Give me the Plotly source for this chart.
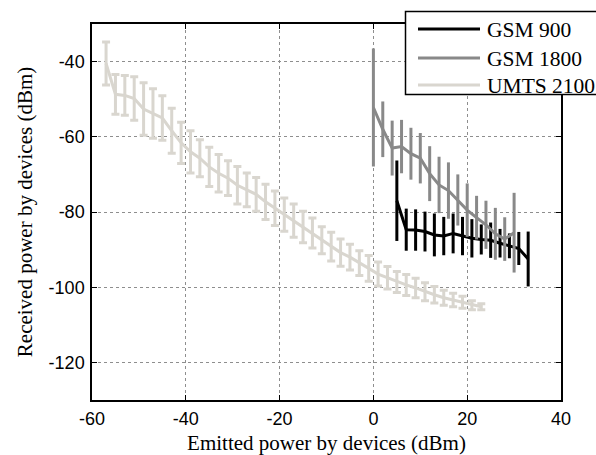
import plotly.graph_objects as go

# ---------------- data ----------------
gsm900_x = [5, 7, 9, 11, 13, 15, 17, 19, 21, 23, 25, 27, 29, 31, 33]
gsm900_y = [-77.0, -84.7, -84.8, -85.2, -86.1, -86.4, -85.7, -86.4, -87.0, -87.3,
            -87.5, -88.3, -89.0, -89.7, -92.5]
gsm900_err = [10.7, 5.6, 5.5, 5.3, 5.7, 5.1, 5.3, 5.1, 5.1, 4.0, 4.7, 3.8, 3.3, 4.4, 7.3]

gsm1800_x = [0, 2, 4, 6, 8, 10, 12, 14, 16, 18, 20, 22, 24, 26, 28, 30]
gsm1800_y = [-52.2, -58.0, -63.0, -62.6, -64.5, -65.7, -69.8, -72.8, -74.3, -76.8,
             -79.5, -81.5, -83.4, -85.8, -87.2, -85.5]
gsm1800_err = [15.7, 7.4, 7.3, 7.1, 6.9, 6.7, 7.3, 7.5, 7.5, 6.8, 7.1, 5.8, 6.4, 6.9, 5.8, 10.6]

umts_x = [-57, -55, -53, -51, -49, -47, -45, -43, -41, -39, -37, -35, -33, -31, -29,
          -27, -25, -23, -21, -19, -17, -15, -13, -11, -9, -7, -5, -3, -1, 1, 3, 5,
          7, 9, 11, 13, 15, 17, 19, 21, 23]
umts_y = [-40.5, -48.7, -49.0, -49.8, -52.6, -53.8, -55.0, -58.4, -61.6, -64.0, -65.7,
          -68.0, -69.7, -71.0, -72.9, -74.1, -75.3, -77.3, -79.0, -80.7, -82.3, -84.0,
          -85.6, -87.5, -89.2, -90.8, -92.0, -93.6, -95.0, -96.5, -97.5, -98.6, -99.4,
          -100.2, -101.2, -102.0, -102.8, -103.4, -104.0, -104.8, -105.2]
umts_err = [5.7, 5.3, 5.3, 5.8, 7.0, 6.6, 5.9, 6.0, 5.5, 5.6, 4.9, 5.2, 5.0, 4.6, 5.0,
            4.5, 4.5, 4.7, 4.6, 4.4, 4.4, 4.2, 4.0, 3.6, 3.8, 3.6, 3.4, 3.3, 3.4, 3.2,
            3.0, 2.8, 2.8, 2.6, 2.4, 2.2, 2.0, 1.8, 1.6, 1.2, 0.8]

series_names = ["GSM 900", "GSM 1800", "UMTS 2100"]
series_colors = ["#000000", "#898989", "#d9d6cf"]

x_ticks = [-60, -40, -20, 0, 20, 40]
y_ticks = [-120, -100, -80, -60, -40]

SERIF = "Liberation Serif"
SANS = "Liberation Sans"

# ---------------- figure ----------------
fig = go.Figure()
fig.add_trace(go.Scatter(
    x=gsm900_x, y=gsm900_y, mode="lines", name=series_names[0],
    line=dict(color=series_colors[0], width=3),
    error_y=dict(type="data", array=gsm900_err, color=series_colors[0], thickness=3, width=0),
    showlegend=False))
fig.add_trace(go.Scatter(
    x=gsm1800_x, y=gsm1800_y, mode="lines", name=series_names[1],
    line=dict(color=series_colors[1], width=3),
    error_y=dict(type="data", array=gsm1800_err, color=series_colors[1], thickness=3, width=0),
    showlegend=False))
fig.add_trace(go.Scatter(
    x=umts_x, y=umts_y, mode="lines", name=series_names[2],
    line=dict(color=series_colors[2], width=3),
    error_y=dict(type="data", array=umts_err, color=series_colors[2], thickness=3, width=4),
    showlegend=False))

axis_common = dict(
    showline=True, linecolor="black", linewidth=1.5, mirror="ticks",
    ticks="inside", ticklen=5, tickcolor="black", tickwidth=1,
    showgrid=True, gridcolor="#8e8e8e", griddash="dot", gridwidth=1,
    zeroline=False, automargin=False,
    tickfont=dict(family=SANS, size=18, color="black"),
)

fig.update_xaxes(range=[-60, 40], tickvals=x_ticks, ticktext=[str(v) for v in x_ticks],
                 ticklabelstandoff=2,
                 title=dict(text="Emitted power by devices (dBm)", standoff=14,
                            font=dict(family=SERIF, size=21, color="black")),
                 **axis_common)
fig.update_yaxes(range=[-130, -30], tickvals=y_ticks, ticktext=[str(v) for v in y_ticks],
                 ticklabelstandoff=2,
                 title=dict(text="Received power by devices (dBm)", standoff=10,
                            font=dict(family=SERIF, size=21, color="black")),
                 **axis_common)

# ---------------- legend (drawn manually, MATLAB style) ----------------
L, R, T, B = 92, 561, 24, 400
W, H = R - L, B - T


def px(xp):
    return (xp - L) / W


def py(yp):
    return (B - yp) / H


fig.add_shape(type="rect", xref="paper", yref="paper",
              x0=px(405.5), x1=px(640), y0=py(94.5), y1=py(11.5),
              line=dict(color="black", width=1.5), fillcolor="white", layer="above")
row_y = [29, 58, 85]
for name, col, yy in zip(series_names, series_colors, row_y):
    fig.add_shape(type="line", xref="paper", yref="paper",
                  x0=px(418), x1=px(480), y0=py(yy), y1=py(yy),
                  line=dict(color=col, width=3), layer="above")
    fig.add_annotation(xref="paper", yref="paper", x=px(485), y=py(yy + 1),
                       xanchor="left", yanchor="middle", showarrow=False, text=name,
                       font=dict(family=SERIF, size=21.5, color="black"))

fig.update_layout(
    width=596, height=455,
    margin=dict(l=L, r=596 - R, t=T, b=455 - B),
    paper_bgcolor="white", plot_bgcolor="white",
    showlegend=False,
)

fig.write_html(
    "out.html",
    config={"displayModeBar": False},
    post_script="document.body.style.margin='0px';document.body.style.overflow='hidden';",
)
